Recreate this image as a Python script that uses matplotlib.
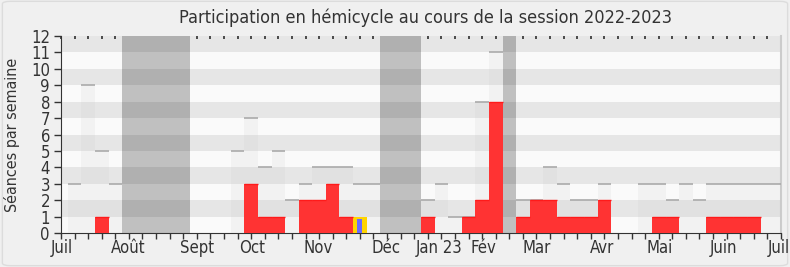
import matplotlib
matplotlib.use("Agg")
import matplotlib.pyplot as plt
from matplotlib.patches import FancyBboxPatch
from matplotlib import font_manager as fm

# ---- data (one entry per week, week k drawn centred at k+1) ----
total_seances = [3, 9, 5, 3, 0, 0, 0, 0, 0, 0, 0, 0,
                 5, 7, 4, 5, 2, 3, 4, 4, 4, 3, 3, 0, 0, 0,
                 2, 3, 1, 1, 8, 11, 0,
                 2, 2, 4, 3, 2, 2, 3, 0, 0, 3, 3, 2, 3, 2, 3, 3, 3, 3, 3, 3]
presences = [0, 0, 1, 0, 0, 0, 0, 0, 0, 0, 0, 0,
             0, 3, 1, 1, 0, 2, 2, 3, 1, 0, 0, 0, 0, 0,
             1, 0, 0, 1, 2, 8, 0,
             1, 2, 2, 1, 1, 1, 2, 0, 0, 0, 1, 1, 0, 0, 1, 1, 1, 1, 0, 0]
vacances = [4, 5, 6, 7, 8, 23, 24, 25, 32]
mentions_week = [21]
mentions = [1]
interventions_week = [21]
interventions = [0.85]

month_labels = ["Juil", "Août", "Sept", "Oct", "Nov", "Déc", "Jan 23", "Fév",
                "Mar", "Avr", "Mai", "Juin", "Juil"]
month_pos = [0.07, 4.92, 9.99, 14.06, 18.92, 23.9, 27.86, 31.12,
             35.04, 39.86, 44.07, 48.8, 52.85]

n_weeks = len(total_seances)
xmax = 53
ymax = 12

cond = [f for f in fm.fontManager.ttflist if "DejaVu Sans" in f.name and f.stretch == "condensed"]
if cond:
    fp_kw = dict(family="DejaVu Sans", stretch="condensed")
else:
    fp_kw = dict(family="DejaVu Sans")

fig = plt.figure(figsize=(7.9, 2.67), dpi=100, facecolor="#f0f0f0")
bg = FancyBboxPatch((0.003, 0.005), 0.994, 0.99, boxstyle="round,pad=0,rounding_size=0.01",
                    transform=fig.transFigure, facecolor="#f0f0f0", edgecolor="#dcdcdc",
                    linewidth=1, zorder=-10)
fig.patches.append(bg)

ax = fig.add_axes([0.0772, 0.1273, 0.9114, 0.7377])
ax.set_facecolor("#fafafa")
ax.set_xlim(0, xmax)
ax.set_ylim(0, ymax)

# vacation bands
for w in vacances:
    ax.axvspan(w + 0.5, w + 1.5, color="#c0c0c0", lw=0, zorder=1)

# horizontal stripes
for y in range(1, ymax, 2):
    ax.axhspan(y, y + 1, color="black", alpha=0.08, lw=0, zorder=2)

centers = [k + 1 for k in range(n_weeks)]
# total séances bars
ax.bar(centers, total_seances, width=1.0, color="#c0c0c0", alpha=0.12, lw=0, zorder=3)
for c, t in zip(centers, total_seances):
    if t > 0:
        ax.hlines(t, c - 0.5, c + 0.5, color="#aaaaaa", lw=1.2, zorder=4)

# presences
ax.bar(centers, presences, width=1.0, color="#ff3333", lw=0, zorder=5)
for c, p in zip(centers, presences):
    if p > 0:
        ax.hlines(p, c - 0.5, c + 0.5, color="#ff1a1a", lw=1.0, zorder=6)

# mentions / interventions
ax.bar([w + 1 for w in mentions_week], mentions, width=1.0, color="#ffd400", lw=0, zorder=5)
ax.bar([w + 1 for w in interventions_week], interventions, width=0.38, color="#6b6bff", lw=0, zorder=6)

# axes styling
ax.spines["top"].set_visible(False)
ax.spines["right"].set_color("#cccccc")
ax.spines["right"].set_linewidth(1.5)
ax.spines["left"].set_color("#333333")
ax.spines["bottom"].set_color("#333333")

tick_fp = fm.FontProperties(size=12, **fp_kw)
ax.set_yticks(range(0, ymax + 1))
ax.tick_params(axis="y", length=5, width=1, colors="#333333", pad=3, labelcolor="#333333")
ax.set_xticks(month_pos)
ax.set_xticklabels(month_labels)
ax.tick_params(axis="x", which="major", length=0, pad=4, labelcolor="#333333")
for lab in ax.get_xticklabels() + ax.get_yticklabels():
    lab.set_fontproperties(tick_fp)
ax.set_xticks(range(0, xmax + 1), minor=True)
ax.tick_params(axis="x", which="minor", length=4, width=1, color="#333333", direction="out")
# small inward ticks at top
ax2 = ax.secondary_xaxis("top")
ax2.set_xticks(range(0, xmax + 1))
ax2.set_xticklabels([])
ax2.tick_params(axis="x", length=2, width=1.2, direction="in", color="#333333")
ax2.spines["top"].set_visible(False)

ax.set_ylabel("Séances par semaine", fontproperties=fm.FontProperties(size=11.5, **fp_kw),
              color="#333333", labelpad=8)

fig.text(0.539, 0.932, "Participation en hémicycle au cours de la session 2022-2023",
         ha="center", va="center", color="#333333",
         fontproperties=fm.FontProperties(size=13, **fp_kw))

fig.savefig("out.png", dpi=100, facecolor=fig.get_facecolor())
